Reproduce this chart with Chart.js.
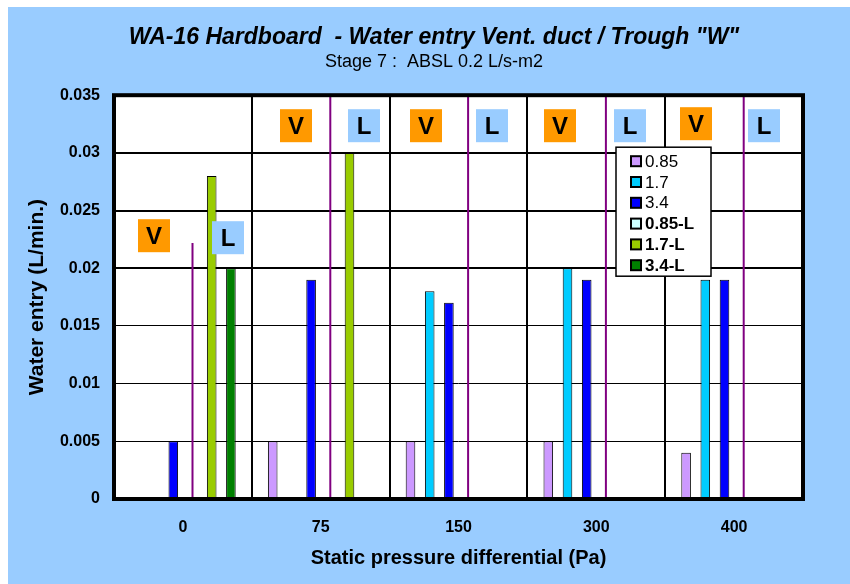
<!DOCTYPE html>
<html>
<head>
<meta charset="utf-8">
<title>WA-16 Hardboard - Water entry</title>
<script src="https://cdn.jsdelivr.net/npm/chart.js@4/dist/chart.umd.min.js"></script>
<style>
  body { margin: 0; background: #fff; }
  #wrap { position: absolute; left: 8px; top: 7px; width: 842px; height: 577px; background: #99ccff; }
  #c { display: block; }
</style>
</head>
<body>
<div id="wrap"><canvas id="c" width="842" height="577" style="width:842px;height:577px"></canvas></div>
<script>
// static pressure differential (Pa)
const pressures = ['0', '75', '150', '300', '400'];

// water entry (L/min.) per spray rate
const v085 = [null, 0.005, 0.005, 0.005, 0.004];
const v17 = [null, null, 0.018, 0.02, 0.019];
const v34 = [0.005, 0.019, 0.017, 0.019, 0.019];
const l085 = [null, null, null, null, null];
const l17 = [0.028, 0.03, null, null, null];
const l34 = [0.02, null, null, null, null];

// purple V / L divider heights
const divider = [0.0222, 0.035, 0.035, 0.035, 0.035];

const yTicks = [0, 0.005, 0.01, 0.015, 0.02, 0.025, 0.03, 0.035];

const FONT = "'Liberation Sans', Arial, sans-serif";

// V / L tag boxes, offsets from chart area top-left (px)
const tags = [
  { t: 'V', x: 24, y: 124 }, { t: 'L', x: 98, y: 126 },
  { t: 'V', x: 166, y: 14 }, { t: 'L', x: 234, y: 14 },
  { t: 'V', x: 296, y: 14 }, { t: 'L', x: 362, y: 14 },
  { t: 'V', x: 430, y: 14 }, { t: 'L', x: 500, y: 14 },
  { t: 'V', x: 566, y: 12 }, { t: 'L', x: 634, y: 14 }
];

function bar(label, data, color, stack) {
  return {
    label: label,
    data: data,
    backgroundColor: color,
    borderColor: '#000',
    borderWidth: 1,
    borderSkipped: false,
    stack: stack,
    barPercentage: 0.5,
    categoryPercentage: 0.836
  };
}

const datasets = [
  bar('0.85', v085, '#cc99ff', 's0'),
  bar('1.7', v17, '#00ccff', 's1'),
  bar('3.4', v34, '#0000ff', 's2'),
  bar('0.85-L', l085, '#ccffff', 's3'),
  bar('1.7-L', l17, '#99cc00', 's4'),
  bar('3.4-L', l34, '#008000', 's5'),
  {
    label: 'divider',
    data: divider,
    backgroundColor: '#800080',
    borderWidth: 0,
    stack: 's3',
    maxBarThickness: 2,
    barPercentage: 0.5,
    categoryPercentage: 0.836
  }
];

const decorate = {
  id: 'decorate',
  beforeDraw(chart) {
    const a = chart.chartArea, ctx = chart.ctx;
    ctx.save();
    ctx.fillStyle = '#fff';
    ctx.fillRect(a.left, a.top, a.right - a.left, a.bottom - a.top);
    ctx.restore();
  },
  afterDatasetsDraw(chart) {
    const a = chart.chartArea, ctx = chart.ctx;
    ctx.save();
    ctx.strokeStyle = '#000';
    ctx.lineWidth = 4;
    ctx.strokeRect(a.left, a.top, a.right - a.left, a.bottom - a.top);
    ctx.restore();
  },
  afterDraw(chart) {
    const a = chart.chartArea, ctx = chart.ctx;
    ctx.save();
    // V / L tags
    ctx.font = 'bold 24px ' + FONT;
    ctx.textAlign = 'center';
    ctx.textBaseline = 'middle';
    tags.forEach(g => {
      ctx.fillStyle = g.t === 'V' ? '#ff9900' : '#99ccff';
      ctx.fillRect(a.left + g.x, a.top + g.y, 32, 33);
      ctx.fillStyle = '#000';
      ctx.fillText(g.t, a.left + g.x + 16, a.top + g.y + 18);
    });
    // legend
    const lx = a.left + 502, ly = a.top + 52, lw = 95, lh = 129;
    ctx.fillStyle = '#fff';
    ctx.fillRect(lx, ly, lw, lh);
    ctx.strokeStyle = '#000';
    ctx.lineWidth = 1.5;
    ctx.strokeRect(lx, ly, lw, lh);
    ctx.textAlign = 'left';
    chart.data.datasets.slice(0, 6).forEach((ds, i) => {
      const cy = ly + 14 + i * 20.8;
      ctx.fillStyle = ds.backgroundColor;
      ctx.fillRect(lx + 15, cy - 5, 10, 10);
      ctx.strokeStyle = '#000';
      ctx.lineWidth = 2;
      ctx.strokeRect(lx + 15, cy - 5, 10, 10);
      ctx.fillStyle = '#000';
      ctx.font = (i >= 3 ? 'bold ' : '') + '17px ' + FONT;
      ctx.fillText(ds.label, lx + 29, cy + 1);
    });
    ctx.restore();
  }
};

new Chart(document.getElementById('c'), {
  type: 'bar',
  data: { labels: pressures, datasets: datasets },
  options: {
    responsive: false,
    animation: false,
    events: [],
    layout: { padding: { left: 10, right: 0, top: 17, bottom: 0 } },
    plugins: {
      legend: { display: false },
      tooltip: { enabled: false },
      title: {
        display: true,
        text: 'WA-16 Hardboard  - Water entry Vent. duct / Trough "W"',
        color: '#000',
        font: { family: FONT, size: 23, weight: 'bold', style: 'italic' },
        padding: { top: 0, bottom: 0 }
      },
      subtitle: {
        display: true,
        text: 'Stage 7 :  ABSL 0.2 L/s-m2',
        color: '#000',
        font: { family: FONT, size: 18 },
        padding: { top: 0, bottom: 22 }
      }
    },
    scales: {
      x: {
        stacked: true,
        grid: { offset: true, color: '#000', lineWidth: 2, drawTicks: false },
        border: { display: false },
        ticks: { color: '#000', font: { family: FONT, size: 16, weight: 'bold' }, padding: 19 },
        title: {
          display: true,
          text: 'Static pressure differential (Pa)',
          color: '#000',
          font: { family: FONT, size: 20, weight: 'bold' },
          padding: { top: 0, bottom: 14 }
        },
        afterFit: s => { s.height = 85; }
      },
      y: {
        stacked: false,
        min: yTicks[0],
        max: yTicks[yTicks.length - 1],
        grid: {
          color: '#000',
          lineWidth: c => (c.tick && c.tick.value > 0.0199 ? 2 : 1),
          drawTicks: false
        },
        border: { display: false },
        afterBuildTicks: s => { s.ticks = yTicks.map(v => ({ value: v })); },
        ticks: {
          color: '#000',
          font: { family: FONT, size: 16, weight: 'bold' },
          padding: 14,
          callback: v => String(+Number(v).toFixed(3))
        },
        title: {
          display: true,
          text: 'Water entry (L/min.)',
          color: '#000',
          font: { family: FONT, size: 21, weight: 'bold' },
          padding: { top: 7, bottom: 0 }
        },
        afterFit: s => { s.width = 96; }
      },
      y2: {
        position: 'right',
        display: true,
        grid: { display: false },
        border: { display: false },
        ticks: { display: false },
        afterFit: s => { s.width = 47; }
      }
    }
  },
  plugins: [decorate]
});
</script>
</body>
</html>
